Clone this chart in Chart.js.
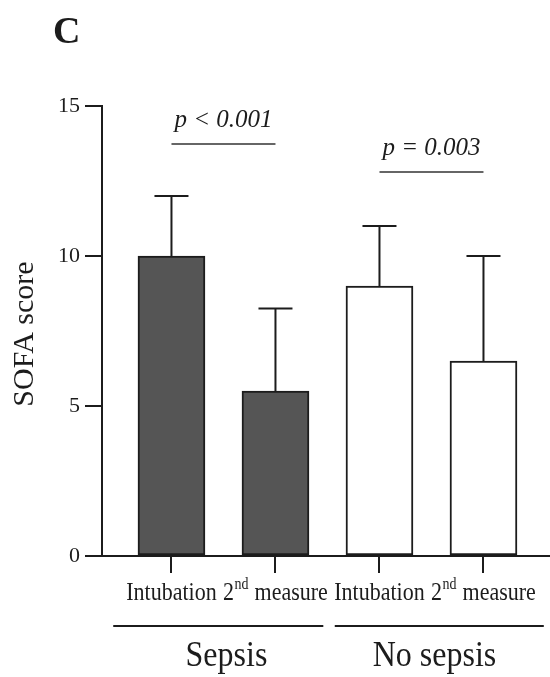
<!DOCTYPE html>
<html>
<head>
<meta charset="utf-8">
<script src="https://cdn.jsdelivr.net/npm/chart.js@4.4.1/dist/chart.umd.min.js"></script>
<style>
  html, body { margin: 0; padding: 0; background: #ffffff; }
  #wrap { width: 550px; height: 677px; }
</style>
</head>
<body>
<div id="wrap"><canvas id="c" width="550" height="677"></canvas></div>
<script>
// ---- data ----
const categories = ['Intubation', '2nd measure', 'Intubation', '2nd measure'];
const groups = ['Sepsis', 'No sepsis'];
const meanValues = [10, 5.5, 9, 6.5];
const upperError = [12, 8.25, 11, 10];
const yTicks = [0, 5, 10, 15];
const pLabels = ['p < 0.001', 'p = 0.003'];
const pLineLevels = [13.73, 12.8];   // y value of the bracket lines
const pPairs = [[0, 1], [2, 3]];

// ---- styling / layout ----
const serif = '"Liberation Serif", "Times New Roman", Times, serif';
const ink = '#1c1c1c';
const barFill = ['#555555', '#555555', '#ffffff', '#ffffff'];
const groupSpans = [[-0.56, 1.46], [1.57, 3.58]];

function textAt(ctx, t, x, y, sy) {
  ctx.save();
  ctx.translate(x, y);
  ctx.scale(1, sy);
  ctx.fillText(t, 0, 0);
  ctx.restore();
}

const overlay = {
  id: 'overlay',
  afterDatasetsDraw(chart) {
    const { ctx, scales: { x, y } } = chart;
    ctx.save();
    ctx.strokeStyle = ink;
    ctx.lineWidth = 2;
    meanValues.forEach((v, i) => {
      const px = x.getPixelForValue(i);
      const top = y.getPixelForValue(v);
      const up = y.getPixelForValue(upperError[i]);
      ctx.beginPath();
      ctx.moveTo(px, top);
      ctx.lineTo(px, up);
      ctx.moveTo(px - 17, up);
      ctx.lineTo(px + 17, up);
      ctx.stroke();
    });
    ctx.restore();
  },
  afterDraw(chart) {
    const { ctx, scales: { x, y } } = chart;
    ctx.save();
    ctx.fillStyle = ink;
    ctx.textBaseline = 'alphabetic';

    const base = x.top + 44;
    const sy = 1.15;
    categories.forEach((lab, i) => {
      const cx = x.getPixelForValue(i);
      const m = lab.match(/^(\d+)(st|nd|rd|th)(.*)$/);
      if (m) {
        const big = '22px ' + serif, small = '14px ' + serif;
        ctx.font = big; const w1 = ctx.measureText(m[1]).width;
        const w3 = ctx.measureText(m[3]).width;
        ctx.font = small; const w2 = ctx.measureText(m[2]).width + 1;
        const sx = cx - (w1 + w2 + w3) / 2;
        ctx.textAlign = 'left';
        ctx.font = big; textAt(ctx, m[1], sx, base, sy);
        ctx.font = small; textAt(ctx, m[2], sx + w1 + 0.5, base - 11, sy);
        ctx.font = big; textAt(ctx, m[3], sx + w1 + w2, base, sy);
      } else {
        ctx.font = '22px ' + serif;
        ctx.textAlign = 'center';
        textAt(ctx, lab, cx, base, sy);
      }
    });

    ctx.strokeStyle = ink;
    ctx.lineWidth = 2;
    groups.forEach((g, gi) => {
      const ly = x.top + 70;
      ctx.beginPath();
      ctx.moveTo(x.getPixelForValue(groupSpans[gi][0]), ly);
      ctx.lineTo(x.getPixelForValue(groupSpans[gi][1]), ly);
      ctx.stroke();
      const mid = (x.getPixelForValue(gi * 2) + x.getPixelForValue(gi * 2 + 1)) / 2 + 3;
      ctx.font = '32px ' + serif;
      ctx.textAlign = 'center';
      textAt(ctx, g, mid, x.top + 110, 1.1);
    });

    pLabels.forEach((t, k) => {
      const [a, b] = pPairs[k];
      const xa = x.getPixelForValue(a), xb = x.getPixelForValue(b);
      const ly = y.getPixelForValue(pLineLevels[k]);
      ctx.strokeStyle = '#666666';
      ctx.lineWidth = 2;
      ctx.beginPath();
      ctx.moveTo(xa, ly);
      ctx.lineTo(xb, ly);
      ctx.stroke();
      ctx.font = 'italic 25px ' + serif;
      ctx.textAlign = 'center';
      ctx.fillStyle = ink;
      textAt(ctx, t, (xa + xb) / 2, ly - 17, 1.05);
    });

    ctx.save();
    ctx.translate(33, (y.top + y.bottom) / 2 + 3);
    ctx.rotate(-Math.PI / 2);
    ctx.font = '30px ' + serif;
    ctx.textAlign = 'center';
    ctx.fillText('SOFA score', 0, 0);
    ctx.restore();

    ctx.font = 'bold 38px ' + serif;
    ctx.textAlign = 'left';
    ctx.fillText('C', 53, 43);
    ctx.restore();
  }
};

new Chart(document.getElementById('c'), {
  type: 'bar',
  data: {
    datasets: [{
      label: 'SOFA score',
      data: meanValues.map((v, i) => ({ x: i, y: v })),
      backgroundColor: barFill,
      borderColor: ink,
      borderWidth: 2,
      borderSkipped: false,
      barThickness: 67
    }]
  },
  options: {
    responsive: false,
    animation: false,
    devicePixelRatio: 1,
    layout: { padding: { top: 106, right: 1, left: 0, bottom: 0 } },
    plugins: { legend: { display: false }, tooltip: { enabled: false } },
    scales: {
      x: {
        type: 'linear',
        offset: false,
        bounds: 'data',
        min: -0.668,
        max: 3.63,
        afterBuildTicks: s => { s.ticks = categories.map((_, i) => ({ value: i })); },
        afterFit: s => { s.height = 121; },
        ticks: { display: false },
        grid: { offset: false, drawOnChartArea: false, drawTicks: true, tickLength: 17, color: ink, lineWidth: 2 },
        border: { display: true, color: ink, width: 2 }
      },
      y: {
        min: 0,
        max: 15,
        afterBuildTicks: s => { s.ticks = yTicks.map(v => ({ value: v })); },
        afterFit: s => { s.width = 102; },
        ticks: { color: ink, padding: 5, font: { family: serif, size: 22 } },
        grid: { drawOnChartArea: false, drawTicks: true, tickLength: 17, color: ink, lineWidth: 2 },
        border: { display: true, color: ink, width: 2 }
      }
    }
  },
  plugins: [overlay]
});
</script>
</body>
</html>
